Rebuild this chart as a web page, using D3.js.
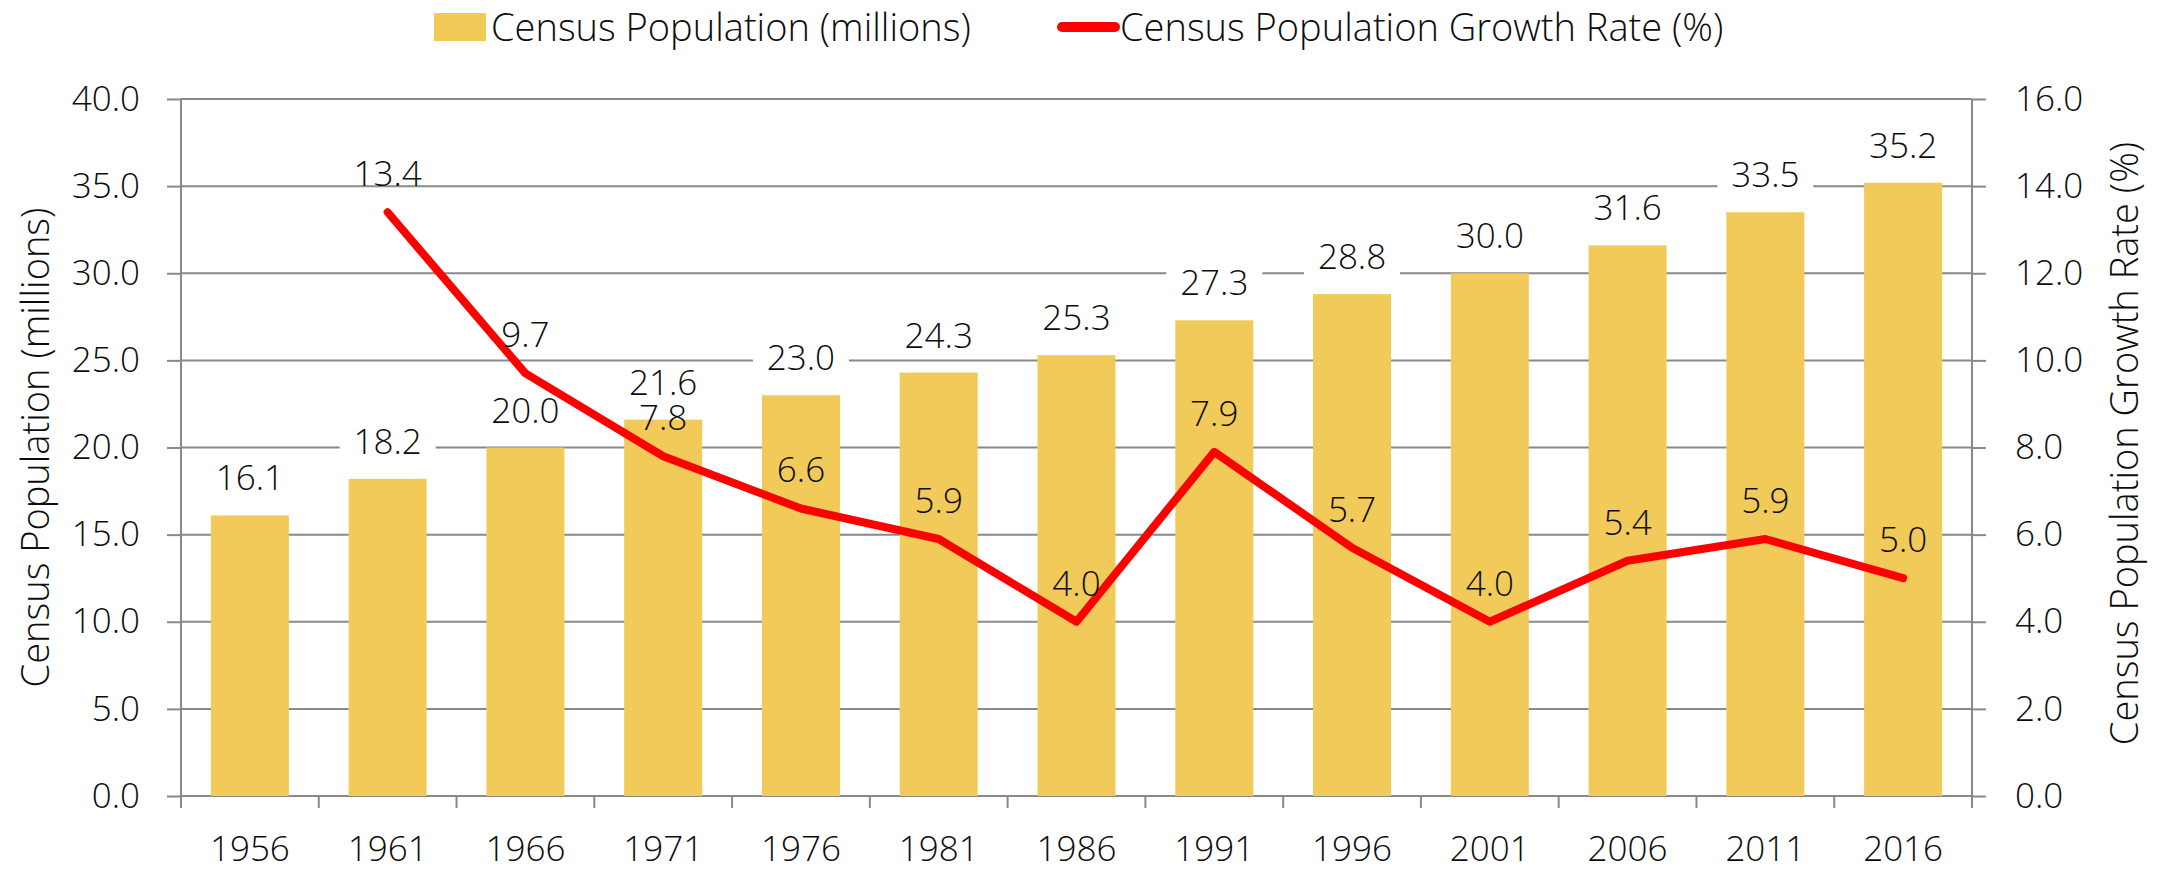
<!DOCTYPE html>
<html>
<head>
	<title></title>
	<script src="https://d3js.org/d3.v7.min.js"></script>
	<style>
		body { margin: 0; background: #fff; }
		svg text {
			font-family: "Open Sans", "Noto Sans", sans-serif;
			font-weight: 300;
			font-size: 35px;
			fill: #0d0d0d;
		}
		svg text.title { font-size: 38px; }
		.axis .domain { display: none; }
		.axis line, .grid line, .frame line {
			stroke: #898989;
			stroke-width: 2;
		}
	</style>
</head>
<body>
	<svg width="2170" height="870"></svg>
<script type="text/javascript">

	// chart values
	var years = ["1956", "1961", "1966", "1971", "1976", "1981", "1986", "1991", "1996", "2001", "2006", "2011", "2016"];
	var population = [16.1, 18.2, 20.0, 21.6, 23.0, 24.3, 25.3, 27.3, 28.8, 30.0, 31.6, 33.5, 35.2];
	var growthRate = [null, 13.4, 9.7, 7.8, 6.6, 5.9, 4.0, 7.9, 5.7, 4.0, 5.4, 5.9, 5.0];
	var leftTicks = [0, 5, 10, 15, 20, 25, 30, 35, 40];
	var rightTicks = [0, 2, 4, 6, 8, 10, 12, 14, 16];

	var barColor = "#f2ca5a",
		lineColor = "#ff0000";

	var svg = d3.select("svg"),
		margin = {top: 99, right: 198, bottom: 74, left: 181},
		width = +svg.attr("width") - margin.left - margin.right,
		height = +svg.attr("height") - margin.top - margin.bottom,
		g = svg.append("g").attr("transform", "translate(" + margin.left + "," + margin.top + ")");

	var fmt = d3.format(".1f");

	var x = d3.scaleBand()
		.domain(years)
		.range([0, width])
		.paddingInner(0.434)
		.paddingOuter(0.217);

	var yL = d3.scaleLinear().domain([0, 40]).range([height, 0]);
	var yR = d3.scaleLinear().domain([0, 16]).range([height, 0]);

	var step = x.step();

	// gridlines
	g.append("g")
		.attr("class", "grid")
		.selectAll("line")
		.data(leftTicks)
		.enter().append("line")
		.attr("x1", 0)
		.attr("x2", width)
		.attr("y1", function(d) { return yL(d); })
		.attr("y2", function(d) { return yL(d); });

	// left / right frame
	var frame = g.append("g").attr("class", "frame");
	frame.append("line").attr("x1", 0).attr("x2", 0).attr("y1", 0).attr("y2", height);
	frame.append("line").attr("x1", width).attr("x2", width).attr("y1", 0).attr("y2", height);

	// x ticks at category boundaries
	frame.selectAll(".xtick")
		.data(d3.range(years.length + 1))
		.enter().append("line")
		.attr("class", "xtick")
		.attr("x1", function(i) { return i * step; })
		.attr("x2", function(i) { return i * step; })
		.attr("y1", height)
		.attr("y2", height + 12);

	// axes
	g.append("g")
		.attr("class", "axis")
		.call(d3.axisLeft(yL).tickValues(leftTicks).tickSize(14).tickPadding(27).tickFormat(fmt));

	g.append("g")
		.attr("class", "axis")
		.attr("transform", "translate(" + width + ",0)")
		.call(d3.axisRight(yR).tickValues(rightTicks).tickSize(14).tickPadding(29).tickFormat(fmt));

	var xAxis = g.append("g")
		.attr("class", "axis")
		.attr("transform", "translate(0," + height + ")")
		.call(d3.axisBottom(x).tickSize(0).tickPadding(0));
	xAxis.selectAll("text").attr("y", 40).attr("dy", "0.71em");

	g.selectAll(".axis text").attr("fill", "#0d0d0d").attr("font-size", null).attr("font-family", null);
	g.selectAll(".axis").attr("font-size", null).attr("font-family", null);

	// bars
	g.append("g")
		.selectAll("rect")
		.data(population)
		.enter().append("rect")
		.attr("x", function(d, i) { return x(years[i]); })
		.attr("y", function(d) { return yL(d); })
		.attr("width", x.bandwidth())
		.attr("height", function(d) { return height - yL(d); })
		.attr("fill", barColor);

	// bar labels with white box
	var barLabels = g.append("g")
		.selectAll("g")
		.data(population)
		.enter().append("g")
		.attr("transform", function(d, i) {
			return "translate(" + (x(years[i]) + x.bandwidth() / 2) + "," + (yL(d) - 25) + ")";
		});

	barLabels.append("rect")
		.attr("x", -48)
		.attr("y", -32)
		.attr("width", 96)
		.attr("height", 40)
		.attr("fill", "#fff");

	barLabels.append("text")
		.attr("text-anchor", "middle")
		.text(function(d) { return fmt(d); });

	// growth line
	var pts = growthRate.map(function(d, i) { return {year: years[i], value: d}; })
		.filter(function(d) { return d.value != null; });

	var line = d3.line()
		.x(function(d) { return x(d.year) + x.bandwidth() / 2; })
		.y(function(d) { return yR(d.value); });

	g.append("path")
		.datum(pts)
		.attr("d", line)
		.attr("fill", "none")
		.attr("stroke", lineColor)
		.attr("stroke-width", 8)
		.attr("stroke-linecap", "round")
		.attr("stroke-linejoin", "round");

	g.append("g")
		.selectAll("text")
		.data(pts)
		.enter().append("text")
		.attr("text-anchor", "middle")
		.attr("x", function(d) { return x(d.year) + x.bandwidth() / 2; })
		.attr("y", function(d) { return yR(d.value) - 26; })
		.text(function(d) { return fmt(d.value); });

	// axis titles
	svg.append("text")
		.attr("class", "title")
		.attr("transform", "translate(36," + (margin.top + height / 2) + ") rotate(-90)")
		.attr("text-anchor", "middle")
		.attr("dy", "0.35em")
		.text("Census Population (millions)");

	svg.append("text")
		.attr("class", "title")
		.attr("transform", "translate(2125," + (margin.top + height / 2 - 4) + ") rotate(-90)")
		.attr("text-anchor", "middle")
		.attr("dy", "0.35em")
		.text("Census Population Growth Rate (%)");

	// legend
	var legend = svg.append("g");
	legend.append("rect")
		.attr("x", 434).attr("y", 13)
		.attr("width", 52).attr("height", 28)
		.attr("fill", barColor);
	legend.append("text")
		.attr("class", "title")
		.attr("x", 491).attr("y", 28).attr("dy", "0.35em")
		.text("Census Population (millions)");
	legend.append("line")
		.attr("x1", 1062).attr("x2", 1115)
		.attr("y1", 27).attr("y2", 27)
		.attr("stroke", lineColor)
		.attr("stroke-width", 10)
		.attr("stroke-linecap", "round");
	legend.append("text")
		.attr("class", "title")
		.attr("x", 1120).attr("y", 28).attr("dy", "0.35em")
		.text("Census Population Growth Rate (%)");

</script>
</body>
</html>
